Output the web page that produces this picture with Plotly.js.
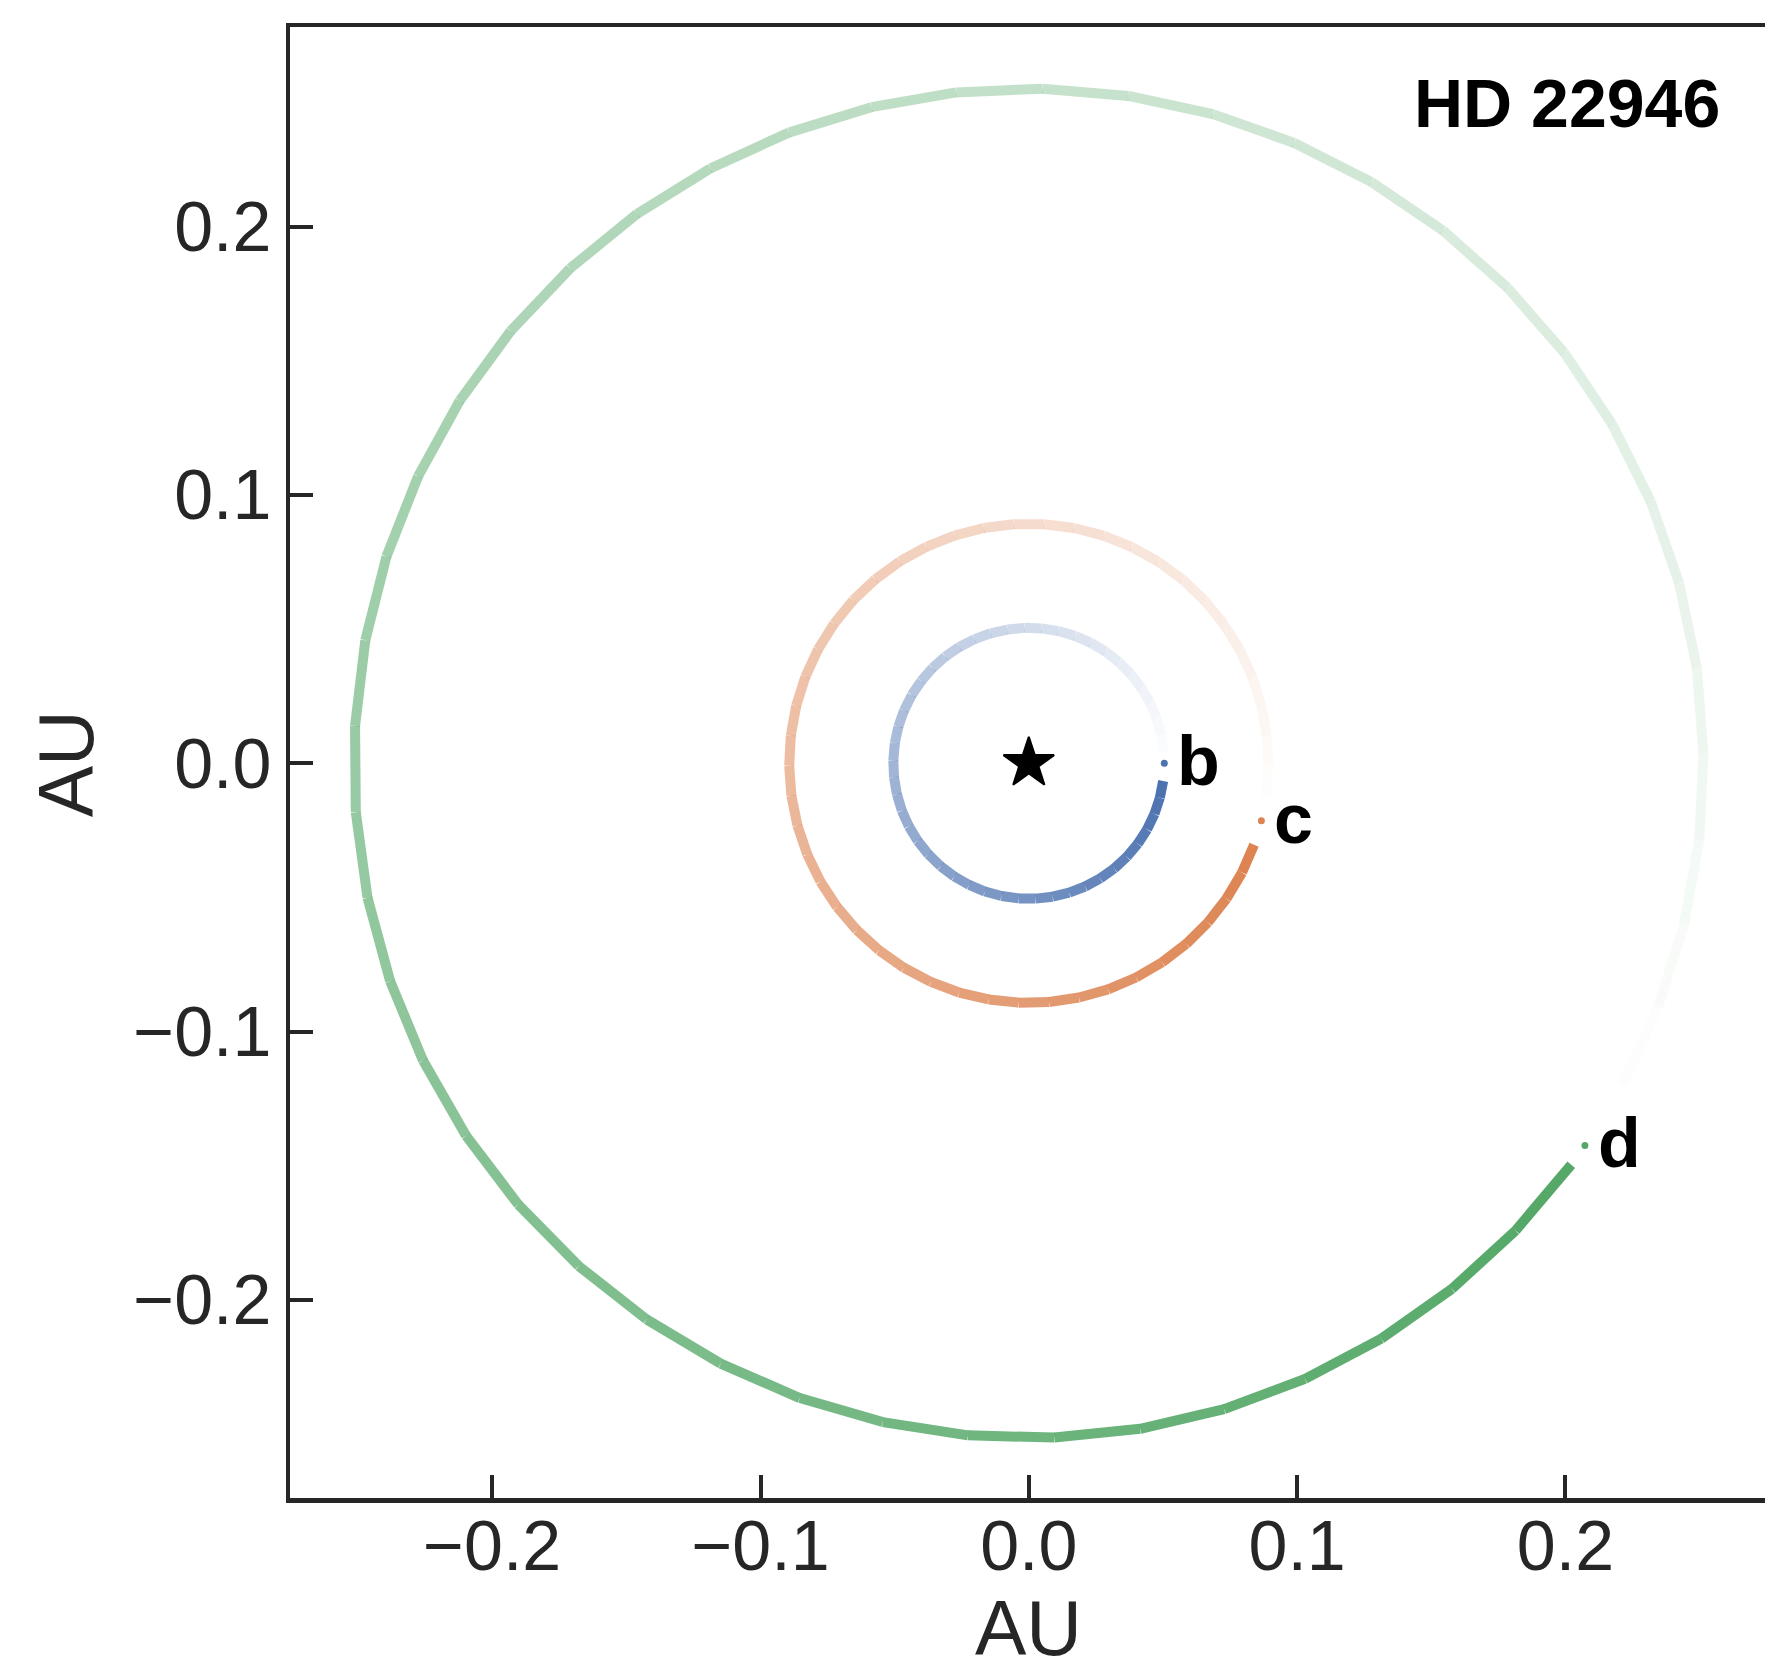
<!DOCTYPE html>
<html>
<head>
<meta charset="utf-8">
<script src="https://cdn.plot.ly/plotly-3.0.1.min.js"></script>
<style>html,body{margin:0;padding:0;background:#fff;overflow:hidden;}</style>
</head>
<body>
<div id="chart"></div>
<script>
// ---- data ----
const systemName = 'HD 22946';
const axisTitle = 'AU';
const planetNames = ['b', 'c', 'd'];
const semiMajorAU = [0.0505, 0.0893, 0.2515];      // orbit radius (AU)
const planetAngleDeg = [0.0, -13.9, -34.5];          // current planet position angle
const trailGapAheadDeg = [5, 6, 6];                  // gap before faint end of trail
const trailGapBehindDeg = [7.5, 6, 2];               // gap between dark end and planet
const segmentsPerOrbit = 48;
const tickVals = [-0.2, -0.1, 0.0, 0.1, 0.2];
const tickText = ['\u22120.2', '\u22120.1', '0.0', '0.1', '0.2'];

// ---- styles ----
const orbitRGB = [[76, 114, 176], [221, 132, 82], [85, 168, 104]];
const axisColor = '#262626';
const fontFamily = 'Liberation Sans, Arial, Helvetica, sans-serif';

const traces = [];
const rad = d => d * Math.PI / 180;

planetNames.forEach((name, p) => {
  const a = semiMajorAU[p];
  const start = planetAngleDeg[p] + trailGapAheadDeg[p];
  const span = 360 - trailGapAheadDeg[p] - trailGapBehindDeg[p];
  const step = span / segmentsPerOrbit;
  const [r, g, b] = orbitRGB[p];
  for (let i = 0; i < segmentsPerOrbit; i++) {
    const t0 = rad(start + i * step), t1 = rad(start + (i + 1) * step);
    const alpha = (i + 1) / segmentsPerOrbit;
    traces.push({
      type: 'scatter', mode: 'lines',
      x: [a * Math.cos(t0), a * Math.cos(t1)],
      y: [a * Math.sin(t0), a * Math.sin(t1)],
      line: { color: `rgba(${r},${g},${b},${alpha.toFixed(3)})`, width: 10 },
      hoverinfo: 'skip', showlegend: false
    });
  }
});

// planets
const px = semiMajorAU.map((a, i) => a * Math.cos(rad(planetAngleDeg[i])));
const py = semiMajorAU.map((a, i) => a * Math.sin(rad(planetAngleDeg[i])));
traces.push({
  type: 'scatter', mode: 'markers', x: px, y: py,
  marker: { size: 7, color: orbitRGB.map(c => `rgb(${c[0]},${c[1]},${c[2]})`) },
  showlegend: false, hoverinfo: 'skip'
});
// star
traces.push({
  type: 'scatter', mode: 'markers', x: [0], y: [0],
  marker: { symbol: 'star', size: 38, color: '#000', line: { color: '#000', width: 2 } },
  showlegend: false, hoverinfo: 'skip'
});

const annotations = planetNames.map((n, i) => ({
  x: px[i], y: py[i], xref: 'x', yref: 'y', text: '<b>' + n + '</b>',
  showarrow: false, xanchor: 'left', yanchor: 'middle', xshift: 11, yshift: 2,
  font: { family: fontFamily, size: 70, color: '#000' }
}));
annotations.push({
  x: 0.9707, y: 0.948, xref: 'paper', yref: 'paper', text: '<b>' + systemName + '</b>',
  showarrow: false, xanchor: 'right', yanchor: 'middle',
  font: { family: fontFamily, size: 68, color: '#000' }
});
// axis titles
annotations.push({
  x: 0, y: -0.0881, xref: 'x', yref: 'paper', text: axisTitle,
  showarrow: false, xanchor: 'center', yanchor: 'middle',
  font: { family: fontFamily, size: 77, color: axisColor }
});
annotations.push({
  x: -0.1519, y: 0, xref: 'paper', yref: 'y', text: axisTitle, textangle: -90,
  showarrow: false, xanchor: 'center', yanchor: 'middle',
  font: { family: fontFamily, size: 77, color: axisColor }
});

const axisCommon = {
  showgrid: false, zeroline: false, showline: true, linecolor: axisColor, linewidth: 4.5,
  ticks: 'inside', ticklen: 23, tickwidth: 4, tickcolor: axisColor,
  tickvals: tickVals, ticktext: tickText,
  tickfont: { family: fontFamily, size: 70, color: axisColor },
  automargin: false, fixedrange: true
};

const layout = {
  width: 1765, height: 1659,
  margin: { l: 290, r: 0, t: 27, b: 161, pad: 0 },
  paper_bgcolor: '#fff', plot_bgcolor: '#fff',
  xaxis: Object.assign({}, axisCommon, {
    range: [-0.27536, 0.27439], mirror: true, ticklabelstandoff: -17
  }),
  yaxis: Object.assign({}, axisCommon, {
    range: [-0.27384, 0.27443], mirror: false
  }),
  annotations: annotations,
  showlegend: false
};

Plotly.newPlot('chart', traces, layout, { displayModeBar: false, staticPlot: true });
</script>
</body>
</html>
